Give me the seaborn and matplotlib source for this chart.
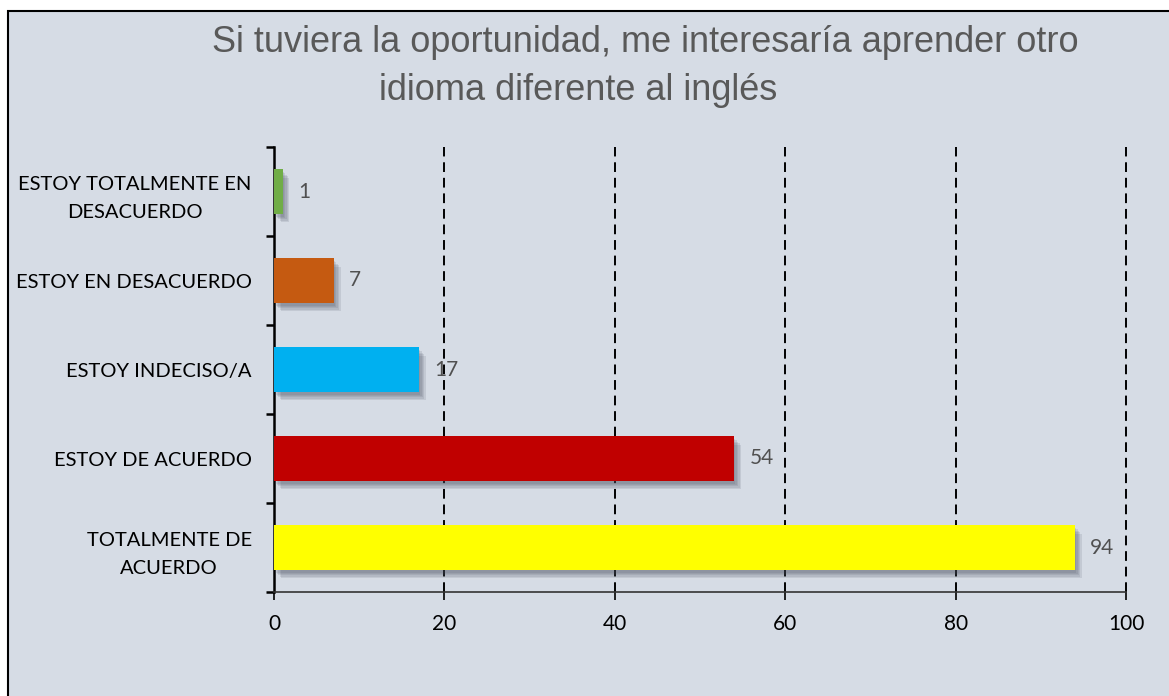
#!/usr/bin/env python3
import matplotlib
matplotlib.use("Agg")
import matplotlib.pyplot as plt
import matplotlib.patheffects as pe
from matplotlib.patches import Rectangle
from matplotlib.ticker import FixedLocator
import pandas as pd
import seaborn as sns

sns.set_style("white")
plt.rcParams["font.family"] = ["Lato", "DejaVu Sans"]

CATEGORIES = [
    "ESTOY TOTALMENTE EN\nDESACUERDO",
    "ESTOY EN DESACUERDO",
    "ESTOY INDECISO/A",
    "ESTOY DE ACUERDO",
    "TOTALMENTE DE\nACUERDO",
]
VALUES = [1, 7, 17, 54, 94]
COLORS = ["#70AD47", "#C55A11", "#00B0F0", "#C00000", "#FFFF00"]
X_TICKS = [0, 20, 40, 60, 80, 100]
TITLE_LINES = ["Si tuviera la oportunidad, me interesaría aprender otro",
               "idioma diferente al inglés"]

BG = "#D6DCE5"
W, H = 1169, 696

df = pd.DataFrame({"categoria": CATEGORIES, "valor": VALUES})

fig = plt.figure(figsize=(W / 100, H / 100), dpi=100, facecolor="white")
# chart area with black border (cropped at right/bottom)
fig.patches.append(Rectangle((8 / W, -0.05), 1.1, 1 - 11 / H + 0.05, transform=fig.transFigure,
                             facecolor=BG, edgecolor="black", linewidth=1.5, zorder=-5))

ax = fig.add_axes([274 / W, 1 - 592 / H, (1126 - 274) / W, (592 - 147) / H])
ax.set_facecolor("none")

sns.barplot(data=df, x="valor", y="categoria", hue="categoria", palette=COLORS,
            legend=False, width=0.5, saturation=1, ax=ax, zorder=3)

# soft drop shadow, built from a few stacked faint offsets
shadow = [pe.SimplePatchShadow(offset=(k, -k - 1), shadow_rgbFace="#4a5060", alpha=0.13)
          for k in (1, 2, 3, 4, 5)] + [pe.Normal()]
for bar in ax.patches:
    bar.set_path_effects(shadow)
    bar.set_edgecolor("none")

for cont in ax.containers:
    ax.bar_label(cont, padding=11, color="#505050", fontsize=15)

ax.set_xlim(0, 100)
ax.set_ylim(4.5, -0.5)
ax.xaxis.set_major_locator(FixedLocator(X_TICKS))
ax.set_xticklabels([str(t) for t in X_TICKS])
for t in X_TICKS[1:]:
    ax.axvline(t, color="black", linestyle=(0, (5, 3)), linewidth=1.4, zorder=1, clip_on=False)

ax.yaxis.set_minor_locator(FixedLocator([i - 0.5 for i in range(len(CATEGORIES) + 1)]))
ax.tick_params(axis="y", which="major", length=0, pad=16, labelsize=14.5, labelcolor="black")
ax.tick_params(axis="y", which="minor", length=6, width=1.8, color="black", left=True)
ax.tick_params(axis="x", which="major", length=6, width=1.2, color="black", bottom=True,
               labelsize=15, labelcolor="black", pad=10)
for lab in ax.get_yticklabels():
    lab.set_multialignment("center")
    lab.set_linespacing(1.75)

ax.set_xlabel("")
ax.set_ylabel("")
for side in ["top", "right"]:
    ax.spines[side].set_visible(False)
ax.spines["left"].set_linewidth(1.8)
ax.spines["left"].set_color("black")
ax.spines["bottom"].set_linewidth(1.2)
ax.spines["bottom"].set_color("#333333")

fig.text(645 / W, 1 - 52 / H, TITLE_LINES[0], ha="center", va="baseline", fontsize=26,
         color="#595959", family=["Liberation Sans", "DejaVu Sans"])
fig.text(578 / W, 1 - 100 / H, TITLE_LINES[1], ha="center", va="baseline", fontsize=26,
         color="#595959", family=["Liberation Sans", "DejaVu Sans"])

fig.savefig("out.png", dpi=100, facecolor="white")
